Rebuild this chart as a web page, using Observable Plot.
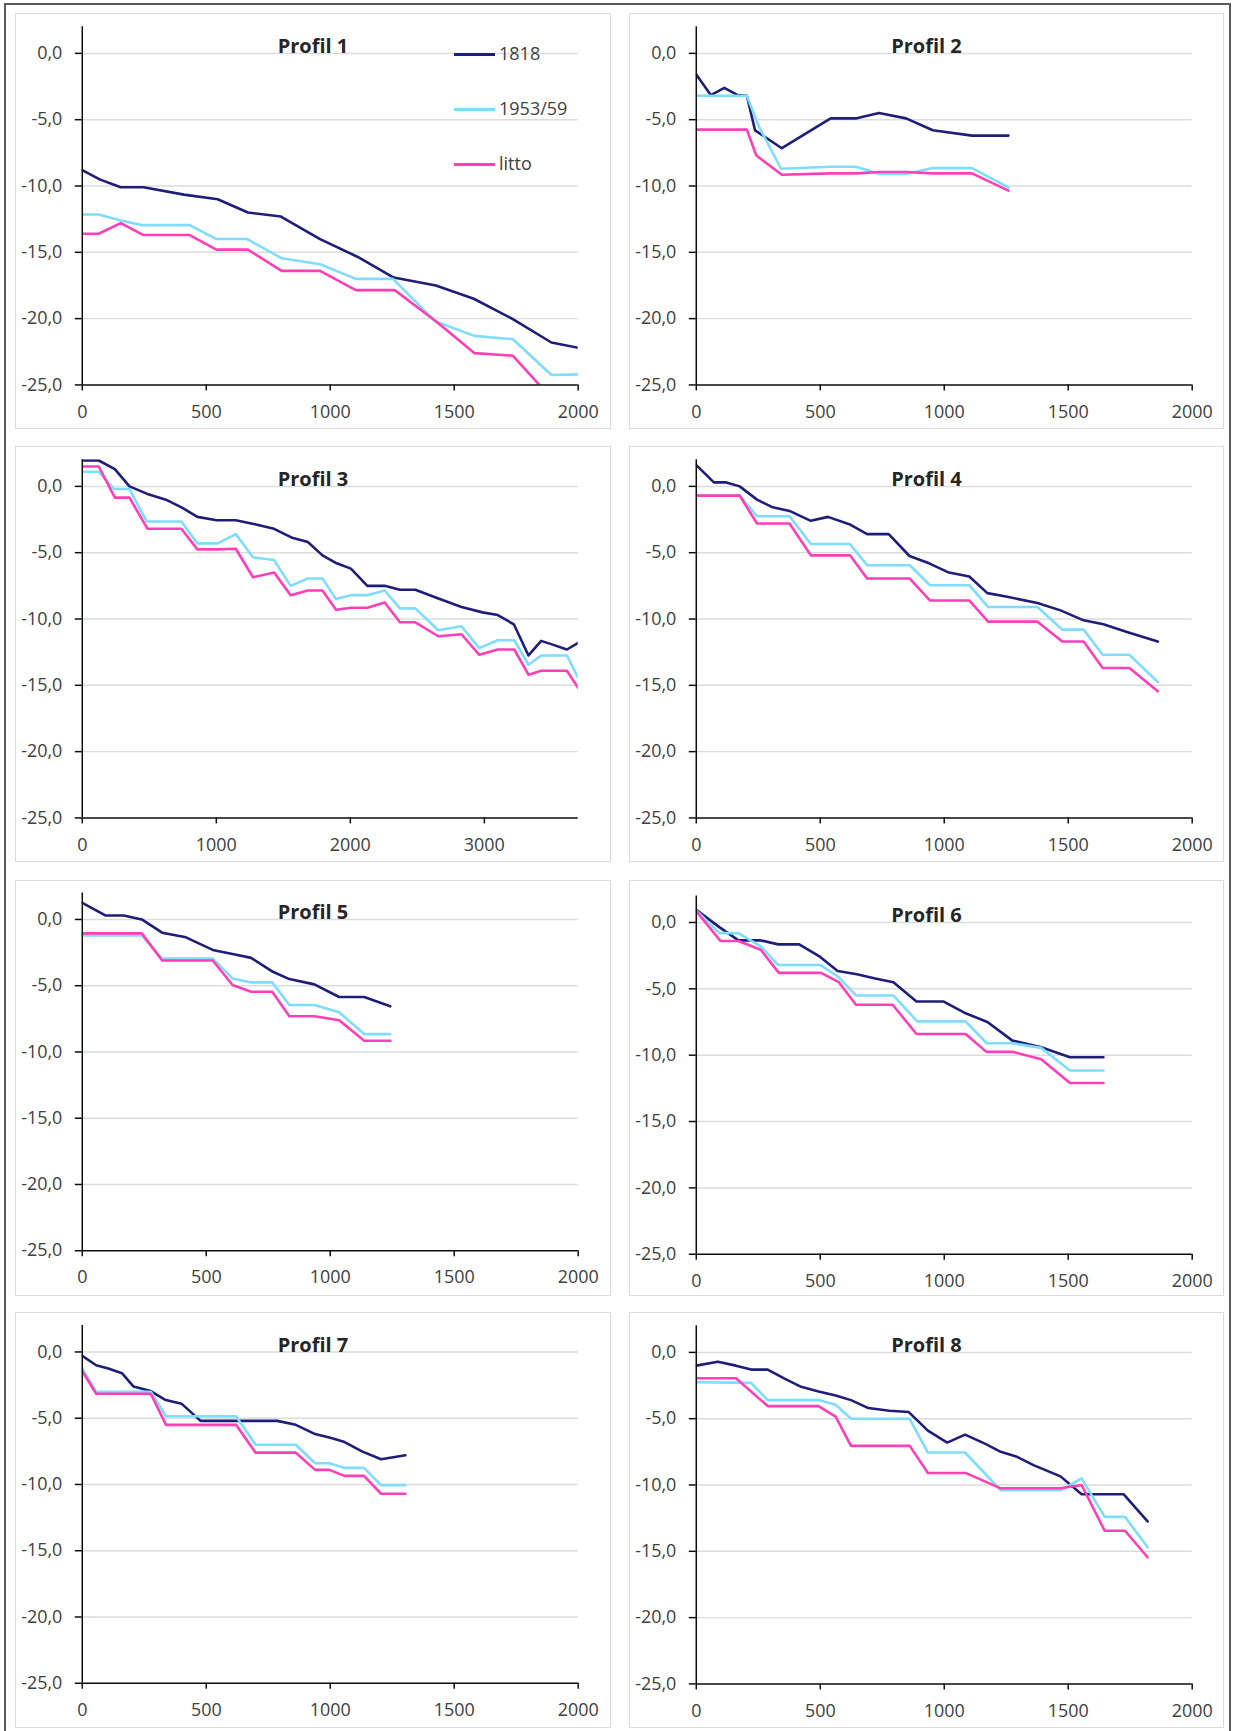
<!DOCTYPE html>
<html>
<head>
<meta charset="utf-8">
<script src="https://cdn.jsdelivr.net/npm/d3@7"></script>
<script src="https://cdn.jsdelivr.net/npm/@observablehq/plot@0.6"></script>
<style>
  html, body { margin: 0; padding: 0; background: #fff; }
  body { width: 1236px; height: 1731px; position: relative; overflow: hidden; font-family: 'Open Sans', sans-serif; }
  .outer { position: absolute; left: 4px; top: 3px; width: 1227px; height: 1760px; border: 2px solid #5a5a5a; box-sizing: border-box; }
  .panel { position: absolute; border: 1px solid #d9dcdc; box-sizing: border-box; background: #fff; }
  .panel svg { position: absolute; left: -1px; top: -1px; }
  .title { position: absolute; left: 0; width: 100%; text-align: center; font: bold 20px/20px 'Open Sans', sans-serif; color: #262626; }
  .leg-line { position: absolute; height: 0; border-top: 3px solid; }
  .leg-text { position: absolute; font: 18px/18px 'Open Sans', sans-serif; color: #404040; white-space: nowrap; }
</style>
</head>
<body>
<div class="outer"></div>
<script>
// ---------- data (distance, depth) ----------
const seriesNames = ["1818", "1953/59", "litto"];
const profileTitles = ["Profil 1", "Profil 2", "Profil 3", "Profil 4", "Profil 5", "Profil 6", "Profil 7", "Profil 8"];
const yTicks = [0, -5, -10, -15, -20, -25];
const xTicks2000 = [0, 500, 1000, 1500, 2000];
const xTicks3700 = [0, 1000, 2000, 3000];
const xMax = [2000, 2000, 3700, 2000, 2000, 2000, 2000, 2000];

const p1_1818 = [[0,-8.8],[70,-9.5],[155,-10.1],[247,-10.1],[410,-10.65],[546,-11.0],[668,-12.0],[801,-12.3],[959,-14.0],[1111,-15.35],[1256,-16.9],[1426,-17.5],[1579,-18.5],[1733,-20.0],[1892,-21.8],[2000,-22.2]];
const p1_1953 = [[0,-12.15],[66,-12.15],[155,-12.6],[240,-12.95],[433,-12.95],[541,-14.0],[665,-14.0],[804,-15.45],[959,-15.9],[1103,-17.0],[1253,-17.0],[1423,-20.2],[1581,-21.3],[1737,-21.55],[1892,-24.25],[2000,-24.2]];
const p1_litto = [[0,-13.6],[66,-13.6],[155,-12.8],[247,-13.7],[433,-13.7],[541,-14.8],[668,-14.8],[804,-16.4],[959,-16.4],[1103,-17.85],[1260,-17.85],[1426,-20.2],[1581,-22.6],[1737,-22.8],[1892,-26.0]];

const p2_1818 = [[0,-1.6],[59,-3.15],[113,-2.6],[167,-3.15],[204,-3.2],[237,-5.8],[345,-7.15],[542,-4.9],[647,-4.9],[737,-4.5],[846,-4.9],[954,-5.8],[1112,-6.2],[1259,-6.2]];
const p2_1953 = [[0,-3.2],[204,-3.2],[252,-5.5],[342,-8.7],[542,-8.55],[644,-8.55],[740,-9.1],[844,-9.1],[954,-8.65],[1112,-8.65],[1259,-10.1]];
const p2_litto = [[0,-5.75],[204,-5.75],[242,-7.7],[345,-9.15],[542,-9.05],[647,-9.05],[737,-8.95],[846,-8.95],[954,-9.05],[1112,-9.05],[1259,-10.35]];

const p3_1818 = [[0,1.95],[123,1.95],[243,1.3],[352,0.0],[481,-0.55],[624,-1.0],[744,-1.6],[859,-2.3],[1002,-2.55],[1145,-2.55],[1288,-2.85],[1431,-3.2],[1560,-3.85],[1683,-4.2],[1792,-5.2],[1898,-5.8],[2004,-6.2],[2127,-7.5],[2256,-7.5],[2370,-7.8],[2485,-7.8],[2642,-8.4],[2829,-9.1],[2986,-9.5],[3100,-9.7],[3220,-10.4],[3329,-12.75],[3424,-11.65],[3515,-11.95],[3616,-12.3],[3700,-11.8]];
const p3_1953 = [[0,1.1],[123,1.1],[238,-0.2],[352,-0.2],[481,-2.65],[739,-2.65],[859,-4.3],[1011,-4.3],[1145,-3.6],[1274,-5.35],[1431,-5.55],[1554,-7.5],[1683,-6.95],[1792,-6.95],[1893,-8.5],[2004,-8.2],[2127,-8.2],[2256,-7.85],[2370,-9.2],[2485,-9.2],[2656,-10.85],[2829,-10.55],[2962,-12.2],[3100,-11.6],[3223,-11.6],[3329,-13.45],[3424,-12.75],[3616,-12.75],[3700,-14.45]];
const p3_litto = [[0,1.5],[123,1.5],[243,-0.85],[352,-0.85],[487,-3.2],[739,-3.2],[859,-4.75],[1011,-4.75],[1145,-4.7],[1274,-6.85],[1431,-6.5],[1554,-8.2],[1683,-7.85],[1792,-7.85],[1893,-9.3],[2004,-9.15],[2127,-9.15],[2256,-8.75],[2370,-10.25],[2485,-10.25],[2656,-11.3],[2829,-11.15],[2962,-12.7],[3100,-12.3],[3223,-12.3],[3329,-14.2],[3424,-13.9],[3616,-13.9],[3700,-15.2]];

const p4_1818 = [[0,1.6],[71,0.3],[121,0.3],[175,0.0],[245,-1.0],[304,-1.55],[376,-1.85],[462,-2.6],[531,-2.3],[617,-2.85],[689,-3.6],[776,-3.6],[860,-5.25],[939,-5.8],[1019,-6.5],[1101,-6.8],[1174,-8.05],[1249,-8.3],[1376,-8.8],[1469,-9.35],[1562,-10.1],[1642,-10.4],[1740,-11.0],[1861,-11.7]];
const p4_1953 = [[0,-0.7],[175,-0.7],[245,-2.25],[376,-2.25],[462,-4.35],[620,-4.35],[689,-5.95],[861,-5.95],[942,-7.45],[1101,-7.45],[1177,-9.1],[1376,-9.1],[1476,-10.8],[1562,-10.8],[1639,-12.7],[1747,-12.7],[1861,-14.75]];
const p4_litto = [[0,-0.7],[175,-0.7],[245,-2.8],[376,-2.8],[462,-5.2],[620,-5.2],[689,-6.95],[861,-6.95],[942,-8.6],[1101,-8.6],[1177,-10.2],[1376,-10.2],[1476,-11.7],[1562,-11.7],[1639,-13.7],[1747,-13.7],[1861,-15.45]];

const p5_1818 = [[0,1.25],[93,0.3],[167,0.3],[240,0.0],[322,-1.0],[418,-1.35],[526,-2.3],[606,-2.6],[681,-2.9],[769,-3.95],[835,-4.5],[936,-4.9],[1036,-5.85],[1137,-5.85],[1242,-6.55]];
const p5_1953 = [[0,-1.2],[240,-1.2],[322,-2.95],[526,-2.95],[606,-4.45],[681,-4.75],[766,-4.75],[835,-6.45],[936,-6.45],[1036,-7.0],[1137,-8.65],[1242,-8.65]];
const p5_litto = [[0,-1.05],[240,-1.05],[322,-3.1],[526,-3.1],[606,-4.95],[681,-5.45],[766,-5.45],[835,-7.3],[936,-7.3],[1036,-7.6],[1137,-9.15],[1242,-9.15]];

const p6_1818 = [[0,0.95],[93,-0.35],[170,-1.35],[260,-1.35],[330,-1.65],[415,-1.65],[500,-2.6],[570,-3.65],[648,-3.9],[717,-4.2],[795,-4.5],[888,-5.95],[996,-5.95],[1081,-6.8],[1174,-7.5],[1275,-8.9],[1391,-9.4],[1507,-10.15],[1642,-10.15]];
const p6_1953 = [[0,0.9],[93,-0.8],[170,-0.8],[260,-1.8],[330,-3.2],[500,-3.2],[573,-4.1],[644,-5.5],[795,-5.5],[891,-7.45],[1086,-7.45],[1171,-9.1],[1275,-9.1],[1391,-9.45],[1507,-11.15],[1642,-11.15]];
const p6_litto = [[0,0.85],[98,-1.4],[170,-1.4],[260,-2.05],[333,-3.8],[503,-3.8],[575,-4.5],[644,-6.2],[792,-6.2],[888,-8.4],[1086,-8.4],[1170,-9.75],[1275,-9.75],[1391,-10.3],[1507,-12.1],[1642,-12.1]];

const p7_1818 = [[0,-0.3],[56,-1.0],[105,-1.25],[160,-1.6],[206,-2.6],[276,-2.95],[333,-3.6],[400,-3.9],[477,-5.2],[617,-5.2],[787,-5.2],[861,-5.5],[939,-6.2],[1004,-6.5],[1058,-6.8],[1128,-7.5],[1205,-8.1],[1303,-7.8]];
const p7_1953 = [[0,-1.25],[56,-3.0],[276,-3.0],[338,-4.85],[620,-4.85],[699,-7.0],[861,-7.0],[939,-8.4],[996,-8.4],[1058,-8.75],[1136,-8.75],[1205,-10.05],[1303,-10.05]];
const p7_litto = [[0,-1.45],[56,-3.15],[276,-3.15],[338,-5.5],[620,-5.5],[699,-7.6],[861,-7.6],[939,-8.9],[996,-8.9],[1058,-9.35],[1136,-9.35],[1205,-10.7],[1303,-10.7]];

const p8_1818 = [[0,-1.0],[87,-0.7],[160,-1.0],[221,-1.3],[288,-1.3],[358,-2.0],[423,-2.6],[493,-2.95],[562,-3.25],[624,-3.6],[694,-4.2],[779,-4.4],[857,-4.5],[934,-5.9],[1012,-6.8],[1084,-6.2],[1166,-6.9],[1228,-7.5],[1290,-7.85],[1360,-8.5],[1469,-9.35],[1554,-10.7],[1724,-10.7],[1820,-12.75]];
const p8_1953 = [[0,-2.25],[221,-2.3],[288,-3.6],[493,-3.6],[562,-3.95],[624,-5.0],[860,-5.0],[934,-7.55],[1084,-7.55],[1228,-10.4],[1469,-10.4],[1554,-9.5],[1647,-12.4],[1729,-12.4],[1820,-14.7]];
const p8_litto = [[0,-1.95],[160,-1.95],[288,-4.05],[493,-4.05],[562,-4.85],[624,-7.05],[861,-7.05],[934,-9.1],[1088,-9.1],[1228,-10.25],[1469,-10.25],[1554,-10.0],[1647,-13.45],[1729,-13.45],[1820,-15.45]];

// ---------- styles / layout ----------
const seriesColors = ["#1e1e78", "#7fdcfa", "#ff3fb6"];
const profiles = [
  [p1_1818, p1_1953, p1_litto], [p2_1818, p2_1953, p2_litto],
  [p3_1818, p3_1953, p3_litto], [p4_1818, p4_1953, p4_litto],
  [p5_1818, p5_1953, p5_litto], [p6_1818, p6_1953, p6_litto],
  [p7_1818, p7_1953, p7_litto], [p8_1818, p8_1953, p8_litto]
];
const colLeft = [15, 629];
const colWidth = [596, 595];
const rowTop = [13, 446, 880, 1312];
const panelH = 416;
const mTop = [13.4, 13.4, 13.4, 13.4, 12.5, 15.5, 13, 13.4];
const mBottom = [43.3, 43.3, 43.3, 43.3, 44.5, 41, 44, 43.3];

const fmtY = d => d.toFixed(1).replace(".", ",");
const axisColor = "#0d0d0d";
const textColor = "#404040";

profiles.forEach((series, i) => {
  const col = i % 2, row = Math.floor(i / 2);
  const W = colWidth[col];
  const panel = document.createElement("div");
  panel.className = "panel";
  panel.style.left = colLeft[col] + "px";
  panel.style.top = rowTop[row] + "px";
  panel.style.width = W + "px";
  panel.style.height = panelH + "px";
  document.body.appendChild(panel);

  const marks = [
    Plot.gridY(yTicks.filter(t => t > -25), {stroke: "#d9dddc", strokeOpacity: 1, strokeWidth: 1.5}),
    ...series.map((data, s) => Plot.line(data, {
      x: d => d[0], y: d => d[1], stroke: seriesColors[s], strokeWidth: 2.6, clip: true
    })),
    Plot.ruleX([0], {stroke: axisColor, strokeWidth: 1.5}),
    Plot.ruleY([-25], {stroke: axisColor, strokeWidth: 1.5}),
    Plot.axisY({ticks: yTicks, tickFormat: fmtY, tickSize: 7, tickPadding: 13, stroke: axisColor, fill: textColor, strokeWidth: 1.5}),
    Plot.axisX({ticks: xMax[i] === 3700 ? xTicks3700 : xTicks2000, tickFormat: d => String(d), tickSize: 6, tickPadding: 14, stroke: axisColor, fill: textColor, strokeWidth: 1.5})
  ];

  const chart = Plot.plot({
    width: W,
    height: panelH,
    marginLeft: 67,
    marginRight: W - 564.6,
    marginTop: mTop[i],
    marginBottom: mBottom[i],
    x: {domain: [0, xMax[i]], axis: null},
    y: {domain: [-25, 2], axis: null},
    style: {fontFamily: "'Open Sans', sans-serif", fontSize: "18px", color: textColor, background: "transparent", overflow: "visible"},
    marks
  });
  panel.appendChild(chart);

  const title = document.createElement("div");
  title.className = "title";
  title.textContent = profileTitles[i];
  title.style.top = (mTop[i] + 26.6 - 17.8) + "px";
  panel.appendChild(title);

  if (i === 0) {
    const legY = [40, 95, 150];
    seriesNames.forEach((name, s) => {
      const ln = document.createElement("div");
      ln.className = "leg-line";
      ln.style.left = "438px";
      ln.style.width = "41px";
      ln.style.top = (legY[s] - 1.5) + "px";
      ln.style.borderTopColor = seriesColors[s];
      panel.appendChild(ln);
      const tx = document.createElement("div");
      tx.className = "leg-text";
      tx.style.left = "483px";
      tx.style.top = (legY[s] - 9.6) + "px";
      tx.textContent = name;
      panel.appendChild(tx);
    });
  }
});
</script>
</body>
</html>
